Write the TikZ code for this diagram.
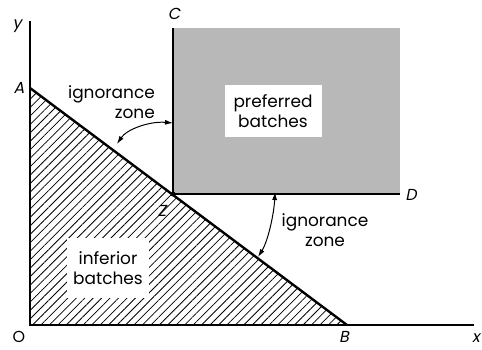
\documentclass[tikz,border=0pt]{standalone}
\usepackage{fontspec}
\setmainfont{Poppins}[AutoFakeSlant=0.2]
\usetikzlibrary{patterns.meta,arrows.meta}
\begin{document}
\begin{tikzpicture}[x=1bp,y=1bp,
  lbl/.style={font=\fontsize{17}{20}\selectfont, align=center, inner sep=2pt},
  pt/.style={font=\fontsize{16}{18}\selectfont\itshape, inner sep=0pt},
  axis/.style={line width=1.1pt},
  bound/.style={line width=2.4pt},
  zarrow/.style={line width=1pt, {Latex[length=8pt,width=5pt]}-{Latex[length=8pt,width=5pt]}}
]
\useasboundingbox (0,0) rectangle (482,349);
% coordinates
\coordinate (O) at (30,24);
\coordinate (Ytop) at (30,328);
\coordinate (Xend) at (474,24);
\coordinate (A) at (30,261);
\coordinate (B) at (347,24);
\coordinate (Z) at (172,155);
\coordinate (C) at (173,321);
\coordinate (D) at (400,155);
% hatched region
\fill[pattern={Lines[angle=45,distance=6pt,line width=0.8pt]}] (O) -- (A) -- (B) -- cycle;
% preferred region
\fill[black!28] (Z -| C) rectangle (D |- C);
% labels with white backgrounds
\node[lbl, fill=white, minimum width=82bp, minimum height=60bp] (inf) at (108,81) {inferior\\batches};
\node[lbl, fill=white, minimum width=97bp, minimum height=52bp] (pref) at (273,238) {preferred\\batches};
% axes
\draw[axis] (Ytop) -- (O) -- (Xend);
% boundaries
\draw[bound] (A) -- (B);
\draw[bound] (C) -- (Z -| C) -- (D);
\fill (Z -| C) circle (2.5pt);
% point labels
\node[pt] (ly) at (17,323) {y};
\node[pt] (lA) at (19,261) {A};
\node[pt] (lB) at (344,12) {B};
\node[pt] (lC) at (174,335) {C};
\node[pt] (lD) at (411,154) {D};
\node[pt] (lZ) at (162,138) {Z};
\node[pt] (lx) at (476,11) {x};
\node[pt, font=\fontsize{16}{18}\selectfont] (lO) at (19,12) {O};
% ignorance zones
\node[lbl, align=right, anchor=east] (ig1) at (157,247) {ignorance\\zone};
\node[lbl] (ig2) at (325,119) {ignorance\\zone};
\coordinate (p1) at (173,226);
\coordinate (q1) at (117,205);
\coordinate (p2) at (275,157);
\coordinate (q2) at (258,92);
\draw[zarrow] (p1) .. controls (150,228) and (127,220) .. (q1);
\draw[zarrow] (p2) .. controls (274,135) and (268,108) .. (q2);
\end{tikzpicture}
\end{document}
